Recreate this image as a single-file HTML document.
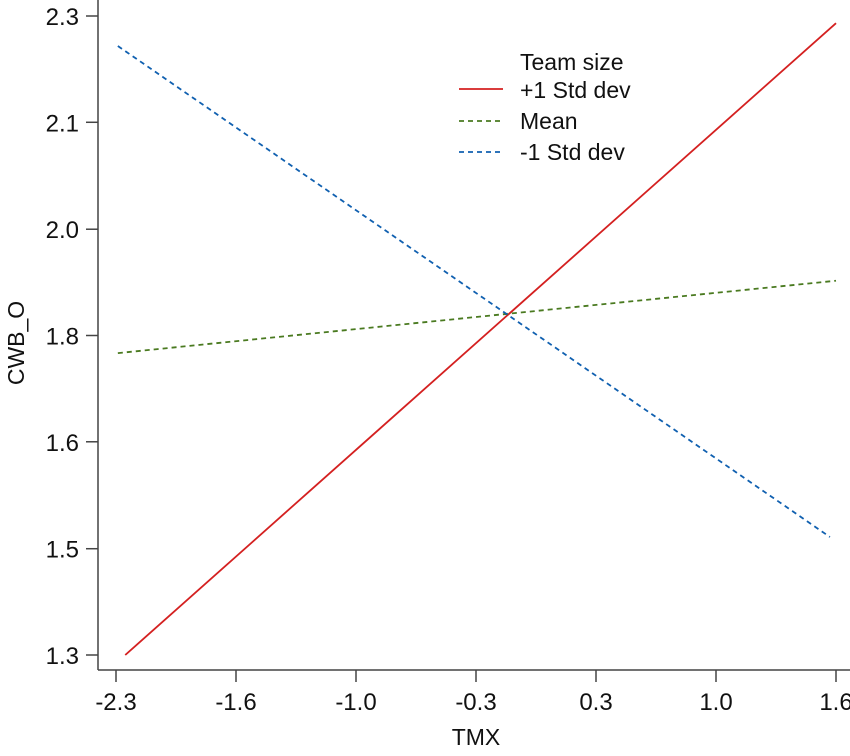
<!DOCTYPE html>
<html><head><meta charset="utf-8"><style>
body{margin:0;background:#fff}
svg text{font-family:"Liberation Sans",sans-serif;fill:#111}
</style></head><body>
<svg width="850" height="751">
<g id="axes"></g><g id="lines"></g>
<g font-size="23">
<text x="520" y="70">Team size</text>
<line x1="459" y1="89" x2="503" y2="89" stroke="#d42020" stroke-width="1.8"/>
<text x="520" y="98">+1 Std dev</text>
<line x1="459" y1="121" x2="503" y2="121" stroke="#4a7a20" stroke-width="1.8" stroke-dasharray="5,4"/>
<text x="520" y="129">Mean</text>
<line x1="459" y1="152" x2="503" y2="152" stroke="#1060b0" stroke-width="1.8" stroke-dasharray="5,4"/>
<text x="520" y="160">-1 Std dev</text>
</g>
<text x="476" y="745" font-size="23" text-anchor="middle">TMX</text>
<text transform="translate(24,343) rotate(-90)" font-size="23" text-anchor="middle">CWB_O</text>
</svg>
<script>
const xTicks=[-2.3,-1.65,-1.0,-0.35,0.3,0.95,1.6];
const xTickLabels=["-2.3","-1.6","-1.0","-0.3","0.3","1.0","1.6"];
const yTicks=[1.30,1.463,1.627,1.79,1.953,2.117,2.28];
const yTickLabels=["1.3","1.5","1.6","1.8","2.0","2.1","2.3"];
const seriesNames=["plus1","mean","minus1"];
const seriesX=[[-2.25,1.6],[-2.29,1.6],[-2.29,1.567]];
const plus1Y=[1.30,2.269];
const meanY=[1.763,1.874];
const minus1Y=[2.234,1.481];
const NS="http://www.w3.org/2000/svg";
const sx=v=>116+(v+2.3)/0.65*120;
const sy=v=>655-(v-1.30)/0.98*639;
const axes=document.getElementById('axes');
function mk(tag,attrs,parent){const e=document.createElementNS(NS,tag);for(const k in attrs)e.setAttribute(k,attrs[k]);parent.appendChild(e);return e;}
let a=mk('line',{x1:98,y1:0,x2:98,y2:670,stroke:'#444','stroke-width':1.5},axes);


a=mk('line',{x1:98,y1:670,x2:850,y2:670,stroke:'#444','stroke-width':1.5},axes);


xTicks.forEach((v,i)=>{
 const t=mk('line',{x1:sx(v),x2:sx(v),y1:670,y2:682,stroke:'#444','stroke-width':1.5},axes);
 
 
 const l=mk('text',{x:sx(v),y:710,'font-size':24,'text-anchor':'middle'},axes);
 l.textContent=xTickLabels[i];
 
 
});
yTicks.forEach((v,i)=>{
 const t=mk('line',{x1:86,x2:98,y1:sy(v),y2:sy(v),stroke:'#444','stroke-width':1.5},axes);
 
 
 const l=mk('text',{x:79,y:sy(v)+9,'font-size':24,'text-anchor':'end'},axes);
 l.textContent=yTickLabels[i];
 
 
});
const ys=[plus1Y,meanY,minus1Y];
const cols=['#d42020','#4a7a20','#1060b0'];
const dash=['none','5,4','5,4'];
const lg=document.getElementById('lines');
seriesNames.forEach((n,i)=>{
 const l=mk('line',{x1:sx(seriesX[i][0]),y1:sy(ys[i][0]),x2:sx(seriesX[i][1]),y2:sy(ys[i][1]),stroke:cols[i],'stroke-width':1.8,'stroke-dasharray':dash[i]},lg);
 
 
});
</script>
</body></html>
